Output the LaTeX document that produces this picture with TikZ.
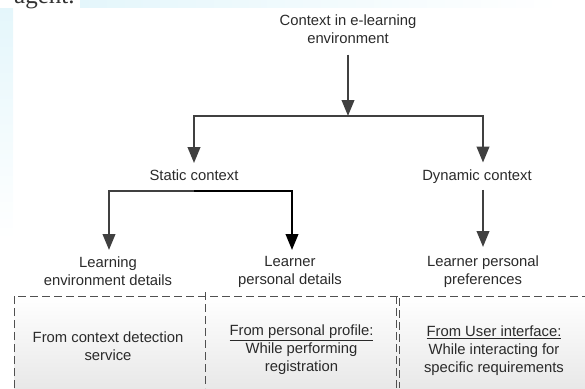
\documentclass[tikz,border=0pt]{standalone}
\usepackage{fontspec}
\setmainfont{Liberation Sans}
\newfontfamily\pageserif{Liberation Serif}
\usetikzlibrary{arrows.meta}
\definecolor{arrowgray}{HTML}{404040}
\definecolor{dashgray}{HTML}{505050}
\definecolor{textgray}{HTML}{2A2A2A}
\definecolor{wmblue}{HTML}{E4F6FB}
\begin{document}
\begin{tikzpicture}[x=1pt,y=-1pt,
  lbl/.style={font=\fontsize{14.8}{18}\selectfont, align=center, inner xsep=0pt, text=textgray},
  arr/.style={draw=arrowgray, line width=2.3pt, -{Triangle[length=16pt,width=12.5pt]}},
  arrdark/.style={draw=black, line width=2.3pt, -{Triangle[length=16pt,width=12.5pt]}},
  dashline/.style={draw=dashgray, line width=0.9pt, dash pattern=on 8pt off 4pt}]
\useasboundingbox (0,0) rectangle (585,388);
% page remnants
\shade[top color=wmblue, bottom color=white] (0,8) rectangle (13,240);
\shade[left color=wmblue, right color=white] (80,0) rectangle (560,7);
\node[font=\pageserif\fontsize{25}{30}\selectfont, anchor=base west, inner sep=0pt, text=black!80] (agent) at (14,4) {agent.};
% bottom boxes background
\shade[top color=white, bottom color=black!9] (14,296) rectangle (585,388);
% nodes
\node[lbl, anchor=north, inner ysep=0pt] (ctx) at (348,14.4) {Context in e-learning\\environment};
\coordinate (j1) at (348,116);
\node[lbl, anchor=base, inner ysep=6pt] (stat) at (194,180) {Static context};
\node[lbl, anchor=base, inner ysep=6.5pt] (dyn) at (477,180) {Dynamic context};
\coordinate (j2) at (194,191);
\node[lbl, anchor=north, inner ysep=6.5pt] (led) at (108,250) {Learning\\environment details};
\node[lbl, anchor=north, inner ysep=6.5pt] (lpd) at (290,250) {Learner\\personal details};
\node[lbl, anchor=north, inner ysep=9pt] (lpp) at (483,247) {Learner personal\\preferences};
% connectors
\draw[arr, shorten <=11pt] (ctx.south) -- (j1);
\draw[arr] (j1) -| (stat.north);
\draw[arr] (j1) -| ([xshift=6pt]dyn.north);
\draw[arr] (j2) -| ([xshift=1pt]led.north);
\draw[arrdark] (j2) -| ([xshift=2pt]lpd.north);
\draw[arr] ([xshift=6pt]dyn.south) -- (lpp.north);
% dashed boxes
\draw[dashline] (14,388) -- (14,296) -- (590,296);
\draw[dashline] (205,292) -- (205,388);
\draw[dashline] (396,296) -- (396,388);
\draw[dashline] (399,298) -- (399,388);
% box texts
\node[lbl, anchor=north, inner sep=0pt] (b1) at (108,331.4) {From context detection\\service};
\node[lbl, anchor=north, inner sep=0pt] (b2) at (301.5,324.6) {\underline{From personal profile:}\\While performing\\registration};
\node[lbl, anchor=north, inner sep=0pt] (b3) at (494,325.6) {\underline{From User interface:}\\While interacting for\\specific requirements};
\end{tikzpicture}
\end{document}
